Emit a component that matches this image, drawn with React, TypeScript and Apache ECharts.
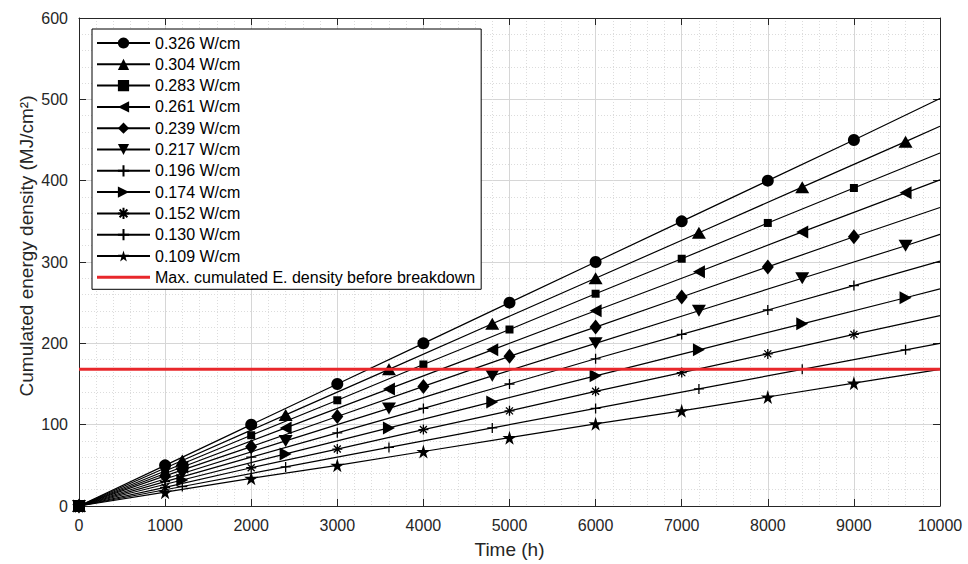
import React, { useEffect, useRef } from 'react';
import * as echarts from 'echarts';

// Time positions (h) at which markers are drawn; last point is the line end (no marker)
const timesA = [0, 1000, 2000, 3000, 4000, 5000, 6000, 7000, 8000, 9000, 10000];
const timesB = [0, 1200, 2400, 3600, 4800, 6000, 7200, 8400, 9600, 10000];

// Cumulated energy density (MJ/cm²)
const s0326 = [0, 50, 100, 150, 200, 250, 300, 350, 400, 450, 501];
const s0304 = [0, 56, 112, 168, 224, 280, 336, 392, 448, 467];
const s0283 = [0, 43, 87, 130, 174, 217, 261, 304, 348, 391, 434];
const s0261 = [0, 48, 96, 144, 192, 240, 288, 337, 385, 401];
const s0239 = [0, 37, 73, 110, 147, 184, 220, 257, 294, 331, 367];
const s0217 = [0, 40, 80, 120, 160, 200, 240, 280, 320, 334];
const s0196 = [0, 30, 60, 90, 120, 150, 181, 211, 241, 271, 301];
const s0174 = [0, 32, 64, 96, 128, 160, 192, 224, 256, 267];
const s0152 = [0, 23, 47, 70, 94, 117, 141, 164, 187, 211, 234];
const s0130 = [0, 24, 48, 72, 96, 120, 144, 168, 192, 200];
const s0109 = [0, 17, 34, 50, 67, 84, 101, 117, 134, 151, 168];

const breakdownTimes = [0, 10000];
const breakdownValue = 168;

const seriesNames = [
  '0.326 W/cm', '0.304 W/cm', '0.283 W/cm', '0.261 W/cm', '0.239 W/cm', '0.217 W/cm',
  '0.196 W/cm', '0.174 W/cm', '0.152 W/cm', '0.130 W/cm', '0.109 W/cm',
];
const breakdownName = 'Max. cumulated E. density before breakdown';

const xTicks = { min: 0, max: 10000, interval: 1000 };
const yTicks = { min: 0, max: 600, interval: 100 };

const STAR = 'path://M50,0L61,35L98,35L68,57L79,91L50,70L21,91L32,57L2,35L39,35Z';
const PLUS = 'path://M5,0L5,10M0,5L10,5';
const AST = 'path://M5,0L5,10M0,5L10,5M1.5,1.5L8.5,8.5M1.5,8.5L8.5,1.5';
const LEFT = 'path://M10,0L0,5L10,10Z';
const RIGHT = 'path://M0,0L10,5L0,10Z';
const DOWN = 'path://M0,0L10,0L5,10Z';
const BAR = 'path://M0,0L53,0L53,3L0,3Z';

const TXT = '#262626';
const RED = '#e8272b';
const FONT = '"Liberation Sans", Arial, Helvetica, sans-serif';

function mk(name: string, xs: number[], ys: number[], symbol: string, size: any, stroked = false) {
  return {
    name,
    type: 'line',
    silent: true,
    symbol,
    symbolSize: size,
    showSymbol: true,
    z: 3,
    lineStyle: { color: '#000', width: 1.2 },
    itemStyle: stroked
      ? { color: '#000', borderColor: '#000', borderWidth: 1.3 }
      : { color: '#000', borderWidth: 0 },
    data: xs.map((x, i) =>
      i === xs.length - 1 ? { value: [x, ys[i]], symbol: 'none' } : [x, ys[i]]
    ),
  };
}

export default function App() {
  const ref = useRef<HTMLDivElement>(null);
  useEffect(() => {
    const chart = echarts.init(ref.current!, null, { renderer: 'svg' });
    const series: any[] = [
      mk(seriesNames[0], timesA, s0326, 'circle', 12),
      mk(seriesNames[1], timesB, s0304, 'triangle', [14, 12]),
      mk(seriesNames[2], timesA, s0283, 'rect', 8),
      mk(seriesNames[3], timesB, s0261, LEFT, [12, 13]),
      mk(seriesNames[4], timesA, s0239, 'diamond', [12, 15]),
      mk(seriesNames[5], timesB, s0217, DOWN, [14, 12]),
      mk(seriesNames[6], timesA, s0196, PLUS, 10, true),
      mk(seriesNames[7], timesB, s0174, RIGHT, [12, 13]),
      mk(seriesNames[8], timesA, s0152, AST, 10, true),
      mk(seriesNames[9], timesB, s0130, PLUS, 10, true),
      mk(seriesNames[10], timesA, s0109, STAR, 14),
      {
        name: breakdownName,
        type: 'line',
        silent: true,
        symbol: 'none',
        showSymbol: false,
        z: 5,
        lineStyle: { color: RED, width: 3 },
        itemStyle: { color: RED },
        data: breakdownTimes.map((x) => [x, breakdownValue]),
      },
    ];
    const axisLine = { show: true, onZero: false, lineStyle: { color: TXT, width: 1 } };
    const plain = (v: number) => String(v);
    chart.setOption({
      animation: false,
      backgroundColor: '#fff',
      textStyle: { fontFamily: FONT },
      grid: { left: 79, right: 28, top: 18, bottom: 56, containLabel: false },
      legend: {
        orient: 'vertical',
        left: 92,
        top: 29,
        padding: [6, 6, 4, 4],
        itemWidth: 53,
        itemHeight: 14,
        itemGap: 5.3,
        backgroundColor: '#fff',
        borderColor: '#000',
        borderWidth: 1,
        borderRadius: 0,
        textStyle: { fontSize: 16, color: '#000', fontFamily: FONT },
        data: [
          ...seriesNames,
          { name: breakdownName, icon: BAR, itemStyle: { color: RED } },
        ],
      },
      xAxis: [
        {
          type: 'value',
          ...xTicks,
          position: 'bottom',
          name: 'Time (h)',
          nameLocation: 'middle',
          nameGap: 34,
          nameMoveOverlap: false,
          nameTextStyle: { fontSize: 19, color: TXT, fontFamily: FONT },
          axisLine,
          axisTick: { show: true, inside: true, length: 7, lineStyle: { color: TXT } },
          axisLabel: { fontSize: 16, color: TXT, margin: 11, fontFamily: FONT, formatter: plain },
          splitLine: { show: true, lineStyle: { color: '#d6d6d6', width: 1 } },
          minorTick: { show: false, splitNumber: 5 },
          minorSplitLine: { show: true, lineStyle: { color: '#dcdcdc', width: 1, type: [1, 2] } },
        },
        {
          type: 'value',
          ...xTicks,
          position: 'top',
          axisLine,
          axisTick: { show: true, inside: true, length: 7, lineStyle: { color: TXT } },
          axisLabel: { show: false },
          splitLine: { show: false },
        },
      ],
      yAxis: [
        {
          type: 'value',
          ...yTicks,
          position: 'left',
          name: 'Cumulated energy density (MJ/cm²)',
          nameLocation: 'middle',
          nameGap: 43,
          nameMoveOverlap: false,
          nameTextStyle: { fontSize: 19, color: TXT, fontFamily: FONT, padding: [0, 0, 0, 32] },
          axisLine,
          axisTick: { show: true, inside: true, length: 7, lineStyle: { color: TXT } },
          axisLabel: { fontSize: 16, color: TXT, margin: 11, fontFamily: FONT, formatter: plain },
          splitLine: { show: true, lineStyle: { color: '#d6d6d6', width: 1 } },
          minorTick: { show: false, splitNumber: 5 },
          minorSplitLine: { show: true, lineStyle: { color: '#dcdcdc', width: 1, type: [1, 2] } },
        },
        {
          type: 'value',
          ...yTicks,
          position: 'right',
          axisLine,
          axisTick: { show: true, inside: true, length: 7, lineStyle: { color: TXT } },
          axisLabel: { show: false },
          splitLine: { show: false },
        },
      ],
      series,
    });
    return () => chart.dispose();
  }, []);
  return (
    <div
      ref={ref}
      style={{ position: 'absolute', left: 0, top: 0, width: 968, height: 564, background: '#fff' }}
    />
  );
}
